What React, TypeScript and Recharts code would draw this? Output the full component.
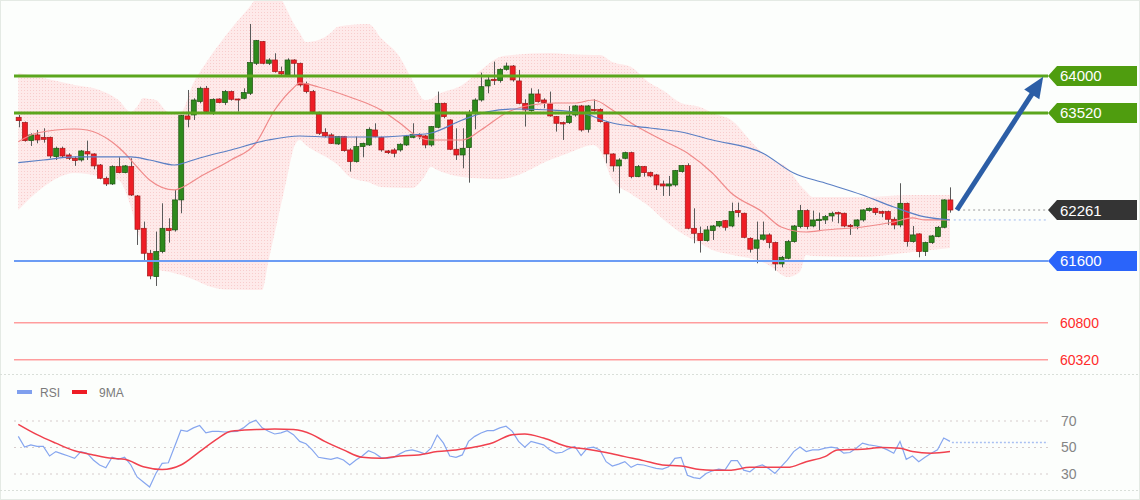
import React from 'react';
import { ComposedChart, Bar, Line, Area, XAxis, YAxis, ReferenceLine } from 'recharts';

// ---------- price candles ----------
const opens = [63464,63395,63161,63235,63204,63204,62954,63062,62975,62932,62910,63018,62988,62845,62673,62599,62824,62746,62824,62443,62024,61700,61397,61722,62024,62003,62392,63481,63494,63667,63840,63537,63701,63654,63797,63701,63710,63775,64164,64445,64164,64207,64056,64013,64207,64164,63896,63797,63503,63269,63235,63118,63213,63040,62889,63083,63105,63299,63204,63027,63040,63040,63105,63204,63243,63222,63105,63334,63645,63429,63049,62975,63070,63524,63688,63870,63956,63939,64086,64129,63935,63645,63550,63766,63688,63637,63472,63395,63395,63494,63611,63308,63567,63567,63395,62988,62833,62932,63005,62694,62824,62746,62716,62599,62573,62586,62759,62837,62024,61959,61864,61994,62054,62123,62054,62253,62219,61894,61765,61882,61938,61838,61562,61635,61851,62046,62253,62054,62123,62132,62184,62227,62219,62063,62054,62132,62253,62283,62240,62240,62141,62067,62348,61851,61951,61722,61838,61916,62037,62392];
const highs = [63494,63408,63256,63299,63321,63213,63083,63083,62997,62954,63040,63161,62997,62858,62694,62841,62945,62845,62932,62456,62111,61743,61981,62348,62154,62521,63494,63818,63710,63861,63870,63710,63710,63818,63810,63705,63840,64674,64467,64454,64229,64294,64121,64229,64216,64173,63926,63818,63537,63321,63256,63222,63222,63062,63213,63135,63334,63386,63213,63040,63062,63126,63235,63386,63256,63235,63351,63797,63654,63438,63321,63321,63559,63710,64043,64013,64186,64099,64173,64142,64077,63697,63840,63827,63710,63797,63481,63408,63611,63624,63624,63624,63697,63580,63408,62997,62932,63018,63018,62845,62833,62759,62729,62642,62703,62781,62845,62867,62283,62046,62054,62067,62119,62132,62357,62357,62227,61907,62111,62111,61959,61851,61665,61873,62067,62327,62270,62253,62227,62197,62240,62240,62227,62080,62141,62270,62296,62296,62253,62253,62167,62608,62357,62054,61959,61851,61938,62054,62400,62555];
const lows = [63334,63148,63092,63126,63135,62932,62910,62945,62910,62833,62889,62910,62789,62660,62573,62586,62737,62737,62443,61808,61613,61363,61276,61700,61838,61981,62219,63334,63429,63645,63524,63494,63645,63624,63680,63537,63697,63753,64142,64151,64142,64043,64013,64000,63991,63861,63775,63524,63235,63204,63118,63105,63018,62759,62876,62945,63092,63204,63018,62988,62945,63018,63092,63191,63178,63062,63083,63321,63451,63040,62910,62802,62616,63308,63667,63775,63883,63913,64069,63926,63632,63343,63537,63654,63580,63472,63278,63170,63377,63472,63278,63265,63537,63395,62867,62759,62478,62919,62673,62686,62694,62686,62521,62443,62443,62564,62746,62011,61830,61709,61851,61873,62037,61994,62037,62167,61894,61709,61570,61864,61765,61475,61518,61622,61838,62024,62011,62037,61994,62080,62111,62089,62037,61938,62011,62111,62240,62197,62167,62067,62011,62037,61786,61838,61648,61665,61821,61907,62024,62227];
const closes = [63420,63161,63235,63170,63178,62962,63062,62962,62932,62902,63027,62988,62833,62673,62599,62824,62746,62833,62456,62011,61700,61406,61722,62024,61994,62392,63485,63438,63688,63840,63537,63697,63654,63797,63697,63697,63784,64173,64458,64164,64207,64056,64026,64207,64164,63883,63797,63537,63256,63222,63126,63213,63031,62889,63083,63126,63308,63213,63040,63005,62997,63114,63213,63243,63213,63105,63343,63645,63472,63049,62975,63062,63503,63688,63861,63948,63939,64086,64129,63948,63645,63559,63766,63667,63654,63481,63386,63377,63481,63611,63299,63611,63550,63408,62988,62833,62910,63005,62694,62824,62746,62703,62586,62573,62599,62772,62837,62024,61959,61864,62003,62054,62111,62037,62240,62227,61907,61752,61873,61938,61838,61562,61648,61851,62054,62253,62046,62132,62141,62175,62219,62210,62054,62046,62132,62262,62283,62227,62219,62141,62067,62348,61851,61938,61722,61838,61925,62037,62392,62261];

// ---------- Bollinger band (read at sample candles) ----------
const bandIdx = [0,4,9,13,16,18,19,20,21,22,24,26,28,30,33,37,38,39,40,41,42,43,44,45,46,48,50,51,53,56,58,61,63,65,66,67,71,74,77,79,85,88,92,93,95,98,101,103,106,109,111,114,118,120,123,125,126,127,135,143,149];
const bandUpper = [64038,63974,63883,63818,63688,63533,63600,63714,63700,63688,63533,63533,63909,64168,64505,64894,64985,64985,64985,64985,64985,64850,64687,64560,64440,64466,64560,64635,64660,64674,64492,64246,63948,63688,63700,63753,63883,64077,64246,64272,64298,64280,64272,64272,64181,64116,63909,63818,63649,63597,63520,63429,63079,62936,62806,62586,62500,62430,62430,62456,62456];
const bandLower = [62261,62560,62741,62700,62651,62300,62002,61795,61548,61500,61460,61418,61360,61290,61230,61224,61224,61224,61600,61963,62326,62690,63053,63169,63100,63000,62910,62850,62689,62620,62560,62550,62547,62700,62819,62780,62689,62670,62660,62689,62910,63001,63105,63040,62651,62470,62300,62150,61963,61830,61743,61680,61613,61548,61392,61457,61678,61665,61652,61717,61769];

// ---------- moving averages ----------
const redMaIdx = [0,3,9,11,15,17,19,21,25,26,29,34,38,41,44,45,48,53,58,61,64,66,71,74,78,82,86,89,92,95,98,103,107,111,114,119,122,126,129,135,140,143,145,149];
const redMaVal = [63147,63260,63312,63299,63143,63001,62819,62651,62521,62547,62689,62910,63130,63558,63844,63909,63857,63727,63558,63390,63208,63169,63169,63299,63520,63623,63649,63649,63688,63558,63390,63169,63001,62741,62482,62236,62041,61976,62002,62041,62106,62158,62132,62132];
const blueMaIdx = [0,4,9,15,18,21,25,27,29,34,40,45,50,58,63,66,71,75,79,85,90,95,101,106,111,119,124,129,135,140,145,149];
const blueMaVal = [62875,62910,62949,62949,62949,62910,62845,62884,62936,63040,63169,63221,63208,63208,63234,63260,63429,63533,63571,63558,63520,63390,63325,63273,63169,63001,62741,62612,62456,62300,62171,62132];

// ---------- levels ----------
const resistance = [64000, 63520];
const support = 61600;
const lowerTargets = [60800, 60320];
const lastPrice = 62261;
const lastBlueMa = 62132;

// ---------- RSI panel ----------
const rsiValues = [58.4,50.3,52.0,50.8,50.8,43.6,46.9,45.2,43.6,41.8,46.9,45.7,40.6,36.8,34.7,42.6,41.1,42.6,36.8,27.8,24.0,20.2,30.4,38.0,38.5,50.8,63.0,62.2,64.8,66.6,61.0,62.2,62.2,61.7,62.0,62.2,64.8,68.6,70.6,64.8,62.2,60.2,61.0,62.7,59.7,54.6,52.8,48.2,42.6,41.8,41.1,42.4,40.6,36.8,40.6,43.6,47.5,45.7,42.4,41.8,42.6,45.2,47.5,48.2,46.9,45.2,49.5,59.4,53.3,43.6,42.6,44.4,54.6,58.4,61.0,62.7,62.7,64.8,66.1,62.2,54.6,50.3,54.6,53.3,52.0,48.2,45.7,46.4,49.0,50.8,43.9,49.5,50.3,48.2,39.3,36.0,37.5,39.3,35.0,37.3,36.8,35.5,34.2,33.7,35.5,41.8,42.6,29.1,27.3,26.6,30.4,32.4,33.7,32.9,40.1,40.1,32.9,31.7,35.5,36.8,34.2,30.4,35.5,40.6,46.9,50.3,46.9,48.2,48.2,49.5,50.3,49.5,45.7,46.2,49.5,53.3,52.0,51.3,50.3,48.2,45.7,54.6,41.1,43.6,39.3,42.6,45.7,48.2,57.1,54.6];
const ma9Idx = [0,3,6,9,12,15,17,20,23,26,29,32,34,38,41,44,47,49,52,55,58,61,64,67,70,73,76,79,81,84,88,91,94,97,100,103,106,109,111,114,117,120,123,126,129,131,135,138,141,143,146,149];
const ma9Val = [67.5,59.7,53.3,47.5,44.4,41.8,41.1,35.5,33.4,36.8,46.9,57.1,62.2,63.5,64.0,63.5,59.7,54.6,48.2,42.6,41.8,43.6,44.4,46.9,48.2,50.3,53.8,59.7,60.2,57.1,50.5,48.7,46.2,43.1,40.1,36.8,36.0,33.4,32.9,32.9,35.0,35.0,35.0,39.3,43.1,48.2,48.7,50.0,49.5,46.9,45.7,46.9];
const rsiLevels = [70, 50, 30];
const rsiLast = 53.8;

// ---------- derived tables ----------
const candles = opens.map((o, i) => ({ i, o, h: highs[i], l: lows[i], c: closes[i] }));
const bandData = bandIdx.map((i, k) => ({ i, lo: bandLower[k], hi: bandUpper[k] }));
const redMaData = redMaIdx.map((i, k) => ({ i, v: redMaVal[k] }));
const blueMaData = blueMaIdx.map((i, k) => ({ i, v: blueMaVal[k] }));
const rsiData = rsiValues.map((v, i) => ({ i, v }));
const ma9Data = ma9Idx.map((i, k) => ({ i, v: ma9Val[k] }));

const X_MIN = -0.6877;
const X_MAX = 164.67;
const FONT = '"Liberation Sans", Arial, sans-serif';

const Candle = (props: any) => {
  const { x, y, width, height, payload } = props;
  if (x == null || y == null || !payload) return null;
  const top = Math.min(y, y + height);
  const bot = Math.max(y, y + height);
  const { o, h, l, c } = payload;
  const span = h - l || 1;
  const py = (p: number) => top + ((h - p) / span) * (bot - top);
  const up = c >= o;
  const yO = py(o);
  const yC = py(c);
  const bTop = Math.min(yO, yC);
  const bH = Math.max(1, Math.abs(yO - yC));
  const cx = Math.round(x + width / 2) + 0.5;
  return (
    <g>
      <line x1={cx} x2={cx} y1={top} y2={bot} stroke="#5a5a5a" strokeWidth={1} />
      <rect
        x={x}
        y={bTop}
        width={width}
        height={bH}
        fill={up ? '#2e8a1c' : '#ee1d25'}
        stroke={up ? '#1d5412' : '#a51818'}
        strokeWidth={0.7}
      />
    </g>
  );
};

const tag = (text: string, fill: string) => (p: any) => {
  const vb = p.viewBox || {};
  const right = (vb.x || 0) + (vb.width || 0);
  const y = (vb.y || 0) + (vb.height || 0) / 2;
  return (
    <g>
      <path
        d={`M${right} ${y} L${right + 9} ${y - 10} L${right + 89} ${y - 10} L${right + 89} ${y + 10} L${right + 9} ${y + 10} Z`}
        fill={fill}
      />
      <text x={right + 12} y={y + 5.5} fill="#ffffff" fontSize={15} fontFamily={FONT}>
        {text}
      </text>
    </g>
  );
};

const plainLabel = (text: string, color: string, dx: number) => (p: any) => {
  const vb = p.viewBox || {};
  const right = (vb.x || 0) + (vb.width || 0);
  const y = (vb.y || 0) + (vb.height || 0) / 2;
  return (
    <text x={right + dx} y={y + 5} fill={color} fontSize={14} fontFamily={FONT}>
      {text}
    </text>
  );
};

const arrowShape = (p: any) => {
  const { x1, y1, x2, y2 } = p;
  if ([x1, y1, x2, y2].some((v) => v == null || isNaN(v))) return <g />;
  const dx = x2 - x1;
  const dy = y2 - y1;
  const len = Math.hypot(dx, dy) || 1;
  const ux = dx / len;
  const uy = dy / len;
  const hl = 21;
  const hw = 9;
  const bx = x2 - ux * hl;
  const by = y2 - uy * hl;
  const px = -uy;
  const pyv = ux;
  return (
    <g>
      <line x1={x1} y1={y1} x2={bx + ux * 2} y2={by + uy * 2} stroke="#2c5ea6" strokeWidth={5} />
      <polygon
        points={`${x2},${y2} ${bx + px * hw},${by + pyv * hw} ${bx - px * hw},${by - pyv * hw}`}
        fill="#2c5ea6"
      />
    </g>
  );
};

export default function App() {
  return (
    <div
      style={{
        position: 'absolute',
        left: 0,
        top: 0,
        width: 1140,
        height: 500,
        background: '#fcfefc',
        overflow: 'hidden',
        fontFamily: FONT,
      }}
    >
      <div style={{ position: 'absolute', left: 0, top: 0 }}>
        <ComposedChart width={1140} height={372} data={candles} margin={{ top: 0, right: 92, bottom: 0, left: 14 }}>
          <defs>
            <pattern id="bbDots" width="3" height="3" patternUnits="userSpaceOnUse">
              <rect width="3" height="3" fill="#feeaea" />
              <rect width="1" height="1" fill="#f8cdcd" />
            </pattern>
          </defs>
          <XAxis dataKey="i" type="number" domain={[X_MIN, X_MAX]} allowDataOverflow hide />
          <YAxis type="number" domain={[60160, 64985]} allowDataOverflow hide />
          <Area
            data={bandData}
            dataKey={(d: any) => [d.lo, d.hi]}
            type="monotone"
            stroke="none"
            fill="url(#bbDots)"
            fillOpacity={1}
            isAnimationActive={false}
            dot={false}
            activeDot={false}
          />
          <Line data={redMaData} dataKey="v" type="monotone" stroke="#f08a8a" strokeWidth={1.2} dot={false} activeDot={false} isAnimationActive={false} />
          <Line data={blueMaData} dataKey="v" type="monotone" stroke="#5a7fc4" strokeWidth={1.2} dot={false} activeDot={false} isAnimationActive={false} />

          {resistance.map((lv) => (
            <ReferenceLine key={lv} y={lv} stroke="#5ba61d" strokeWidth={3} label={tag(String(lv), '#4f9d0f')} />
          ))}
          <ReferenceLine y={support} stroke="#6c9cf4" strokeWidth={2} label={tag(String(support), '#2a64fa')} />
          {lowerTargets.map((lv) => (
            <ReferenceLine key={lv} y={lv} stroke="#ff9d9d" strokeWidth={1.5} label={plainLabel(String(lv), '#ff2b2b', 12)} />
          ))}
          <ReferenceLine
            segment={[{ x: 149.6, y: lastBlueMa }, { x: X_MAX - 0.001, y: lastBlueMa }]}
            stroke="#9db8ee"
            strokeDasharray="2 3"
            strokeWidth={1}
            ifOverflow="visible"
          />
          <ReferenceLine
            segment={[{ x: 150.3, y: lastPrice }, { x: X_MAX - 0.001, y: lastPrice }]}
            stroke="#9a9a9a"
            strokeDasharray="2 3"
            strokeWidth={1}
            ifOverflow="visible"
            label={tag(String(lastPrice), '#343434')}
          />

          <Bar
            dataKey={(d: any) => [d.l, d.h]}
            barSize={5}
            isAnimationActive={false}
            shape={(p: any) => <Candle {...p} />}
          />

          <ReferenceLine
            segment={[{ x: 150.1, y: lastPrice }, { x: 163.9, y: 63990 }]}
            ifOverflow="visible"
            shape={arrowShape}
          />
        </ComposedChart>
      </div>

      <div style={{ position: 'absolute', left: 0, top: 400 }}>
        <ComposedChart width={1140} height={90} data={rsiData} margin={{ top: 0, right: 92, bottom: 0, left: 14 }}>
          <XAxis dataKey="i" type="number" domain={[X_MIN, X_MAX]} allowDataOverflow hide />
          <YAxis type="number" domain={[17.92, 85.85]} allowDataOverflow hide />
          {rsiLevels.map((lv) => (
            <ReferenceLine
              key={lv}
              y={lv}
              stroke="#d6cccc"
              strokeDasharray="2 4"
              strokeWidth={1}
              label={plainLabel(String(lv), '#858585', 13)}
            />
          ))}
          <ReferenceLine
            segment={[{ x: 149.3, y: rsiLast }, { x: X_MAX - 0.001, y: rsiLast }]}
            stroke="#a9c0f2"
            strokeDasharray="2 2"
            strokeWidth={1.5}
            ifOverflow="visible"
          />
          <Line dataKey="v" type="linear" stroke="#86a6ef" strokeWidth={1.2} dot={false} activeDot={false} isAnimationActive={false} />
          <Line data={ma9Data} dataKey="v" type="monotone" stroke="#f0414e" strokeWidth={1.5} dot={false} activeDot={false} isAnimationActive={false} />
        </ComposedChart>
      </div>

      <svg
        width={1140}
        height={500}
        style={{ position: 'absolute', left: 0, top: 0, pointerEvents: 'none' }}
      >
        <rect x={0.5} y={0.5} width={1139} height={499} fill="none" stroke="#e4eae4" />
        <line x1={0} x2={1140} y1={374.5} y2={374.5} stroke="#d9dfd9" strokeDasharray="2 2" />
        <line x1={0} x2={1140} y1={490.5} y2={490.5} stroke="#d9dfd9" strokeDasharray="2 2" />
        <rect x={17} y={390} width={15} height={4} fill="#7f9fee" />
        <text x={40} y={396.5} fill="#7a7a7a" fontSize={12} fontFamily={FONT}>RSI</text>
        <rect x={72} y={390} width={15} height={4} fill="#ee1c25" />
        <text x={99} y={396.5} fill="#7a7a7a" fontSize={12} fontFamily={FONT}>9MA</text>
      </svg>
    </div>
  );
}
